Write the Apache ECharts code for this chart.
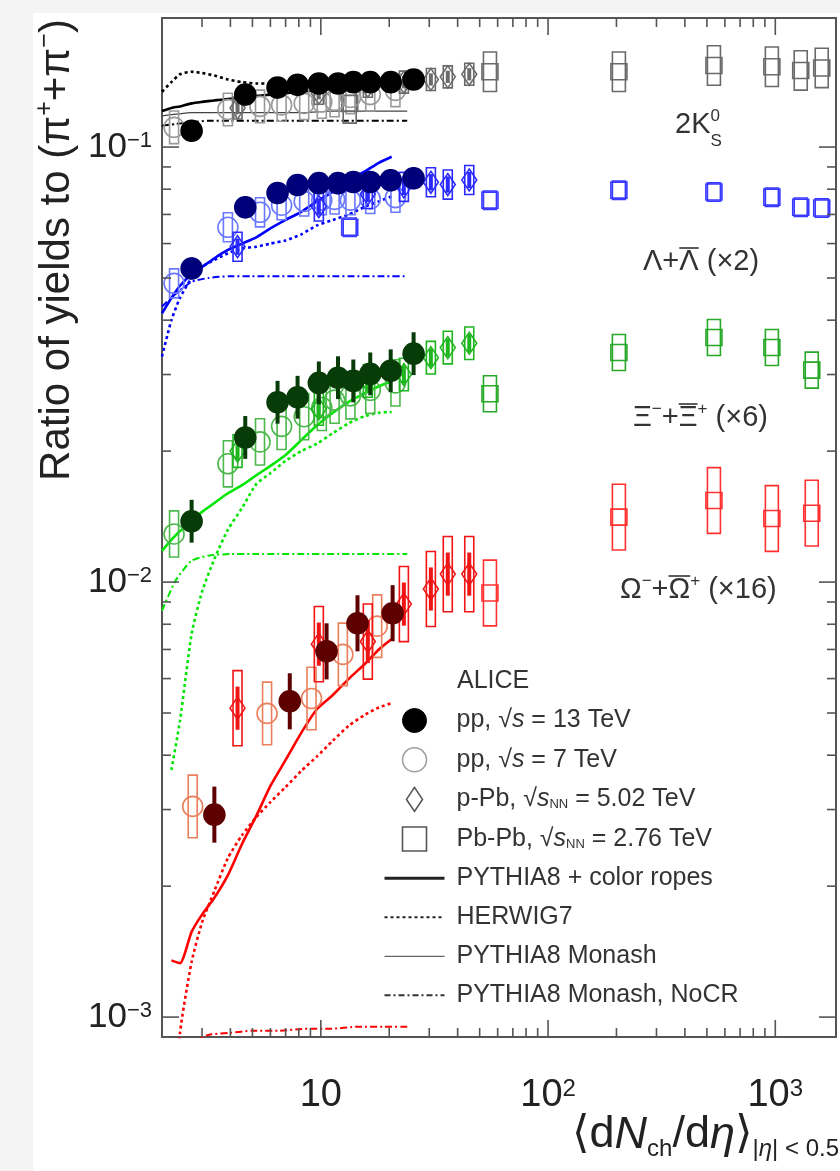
<!DOCTYPE html>
<html>
<head>
<meta charset="utf-8">
<script src="https://cdn.jsdelivr.net/npm/echarts@6/dist/echarts.min.js"></script>
<style>
html, body { margin: 0; padding: 0; background: #f4f4f4; }
#chart { width: 840px; height: 1171px; }
</style>
</head>
<body>
<div id="chart"></div>
<script>
// multiplicity classes, <dNch/deta>
const pp13X = [2.7, 4.65, 6.45, 7.9, 9.8, 11.9, 13.9, 16.5, 20.3, 25.6];
const pp7X = [2.26, 3.9, 5.4, 6.72, 8.45, 10.1, 11.5, 13.5, 16.5, 21.3];
const pPbX = [4.3, 9.8, 16.1, 23.2, 30.5, 36.2, 45];
const pbPbX = [13.4, 55.5, 205, 537, 966, 1294, 1601];
const pbPbXiX = [55.5, 205, 537, 966, 1447];
const omegaPp13X = [3.4, 7.3, 10.6, 14.5, 20.7];
const omegaPp7X = [2.73, 5.8, 9.1, 12.5, 17.7];
const modelX = [2.0, 2.2, 2.4, 2.7, 3.0, 3.4, 3.9, 4.5, 5.2, 6.0, 7.0, 8.2, 9.6, 11.3, 13.3, 15.7, 18.0, 20.5];
const tuneX = [2.0, 2.3, 2.7, 3.2, 4, 5, 6.5, 8.5, 11, 14.5, 19, 24];

// 2K0S / (pi+ + pi-)
const kPp13 = [0.109, 0.132, 0.137, 0.139, 0.140, 0.140, 0.141, 0.141, 0.141, 0.143];
const kPp7 = [0.111, 0.122, 0.124, 0.125, 0.126, 0.127, 0.128, 0.130, 0.132, 0.135];
const kPPb = [0.123, 0.133, 0.138, 0.141, 0.143, 0.145, 0.147];
const kPbPb = [0.126, 0.149, 0.149, 0.154, 0.153, 0.150, 0.152];
const kRopes = [0.121, 0.123, 0.124, 0.126, 0.127, 0.128, 0.129, 0.130, 0.131, 0.132, 0.133, 0.134, 0.135, 0.136, 0.137, 0.138, 0.139, 0.140];
const kHerwig = [0.134, 0.141, 0.147, 0.149, 0.148, 0.146, 0.143, 0.141, 0.140, 0.140, 0.140, 0.140, 0.141, 0.141, 0.141, 0.142, 0.142, 0.142];
const kMonash = [0.118, 0.119, 0.120, 0.120, 0.120, 0.120, 0.120, 0.120, 0.121, 0.121, 0.121, 0.121];
const kNoCR = [0.112, 0.113, 0.114, 0.115, 0.115, 0.115, 0.115, 0.115, 0.115, 0.115, 0.115, 0.115];

// (Lambda + anti-Lambda) x2
const lPp13 = [0.0526, 0.0727, 0.0784, 0.0818, 0.0826, 0.0826, 0.0831, 0.0831, 0.0839, 0.0848];
const lPp7 = [0.0486, 0.0654, 0.0708, 0.0735, 0.0750, 0.0755, 0.0758, 0.0755, 0.0760, 0.0765];
const lPPb = [0.059, 0.073, 0.078, 0.081, 0.083, 0.082, 0.084];
const lPbPb = [0.0654, 0.0755, 0.0796, 0.0788, 0.0767, 0.0727, 0.0724];
const lRopes = [0.0415, 0.045, 0.048, 0.051, 0.053, 0.0555, 0.058, 0.060, 0.062, 0.065, 0.068, 0.071, 0.075, 0.079, 0.084, 0.088, 0.092, 0.095];
const lHerwig = [0.033, 0.040, 0.045, 0.050, 0.053, 0.055, 0.057, 0.0585, 0.059, 0.060, 0.061, 0.063, 0.066, 0.068, 0.070, 0.073, 0.075, 0.077];
const lNoCR = [0.043, 0.046, 0.049, 0.050, 0.0505, 0.0505, 0.0505, 0.0505, 0.0505, 0.0505, 0.0505, 0.0505];

// (Xi- + anti-Xi+) x6
const xPp13 = [0.0138, 0.0215, 0.0259, 0.0266, 0.0287, 0.0295, 0.0290, 0.0301, 0.0306, 0.0335];
const xPp7 = [0.0129, 0.0187, 0.0210, 0.0228, 0.0240, 0.0252, 0.0262, 0.0268, 0.0276, 0.0287];
const xPPb = [0.020, 0.025, 0.029, 0.030, 0.0328, 0.0346, 0.0354];
const xPbPb = [0.0271, 0.0337, 0.0365, 0.0346, 0.0307];
const xRopes = [0.0118, 0.0125, 0.0131, 0.0138, 0.0145, 0.0152, 0.0160, 0.0167, 0.0176, 0.0185, 0.0196, 0.0212, 0.0229, 0.0245, 0.0260, 0.0272, 0.0282, 0.0289];
const xHerwig = [null, 0.0037, 0.0048, 0.0076, 0.0095, 0.0113, 0.0132, 0.0148, 0.0168, 0.0178, 0.0190, 0.0200, 0.0208, 0.0220, 0.0232, 0.0241, 0.0245, 0.0246];
const xNoCR = [0.0086, 0.0101, 0.0112, 0.0115, 0.0116, 0.0116, 0.0116, 0.0116, 0.0116, 0.0116, 0.0116, 0.0116];

// (Omega- + anti-Omega+) x16
const oPp13 = [0.00292, 0.00532, 0.00693, 0.00804, 0.00848];
const oPp7 = [0.00305, 0.00499, 0.00540, 0.00682, 0.00792];
const oPPb = [0.00513, 0.0072, 0.0073, 0.0089, 0.00964, 0.01043, 0.01043];
const oPbPb = [0.00944, 0.0141, 0.0154, 0.0140, 0.0144];
const oRopes = [null, 0.00135, 0.00133, 0.00157, 0.00172, 0.00188, 0.00212, 0.00250, 0.0029, 0.0034, 0.0039, 0.0045, 0.0051, 0.0055, 0.0060, 0.0065, 0.0070, 0.0074];
const oHerwig = [null, 0.0005, 0.00092, 0.00134, 0.00165, 0.00195, 0.00232, 0.00262, 0.00288, 0.00312, 0.00338, 0.00368, 0.00397, 0.00432, 0.00468, 0.00496, 0.00515, 0.00527];
const oNoCR = [null, null, 0.00088, 0.00091, 0.00092, 0.00093, 0.00093, 0.00094, 0.00094, 0.00095, 0.00095, 0.00095];

// relative uncertainties, order K0S, Lambda, Xi, Omega
const pp13Err = [0.03, 0.06, 0.12, 0.16];
const pp7Sys = [0.09, 0.08, 0.13, 0.18];
const pPbSys = [0.06, 0.08, 0.09, 0.22];
const pbPbSys = [0.11, 0.05, 0.10, 0.19];

const xMajorTicks = [10, 100, 1000];
const xMinorTicks = [3, 4, 5, 6, 7, 8, 9, 20, 30, 40, 50, 60, 70, 80, 90, 200, 300, 400, 500, 600, 700, 800, 900];
const yMajorTicks = [0.001, 0.01, 0.1];
const yMinorTicks = [0.002, 0.003, 0.004, 0.005, 0.006, 0.007, 0.008, 0.009, 0.02, 0.03, 0.04, 0.05, 0.06, 0.07, 0.08, 0.09];

const FONT = '"Liberation Sans", Arial, "DejaVu Sans", sans-serif';
const AXIS = '#555';
const X_MIN = 2, X_MAX = 1850, Y_MIN = 0.0009, Y_MAX = 0.198;

const darkColors = ['#000000', '#00007a', '#073b07', '#5e0000'];
const pp7Colors = ['#9a9a9a', '#6a78ff', '#4cb84c', '#ea7f5c'];
const pPbColors = ['#6a6a6a', '#2a2aff', '#1fb51f', '#f01414'];
const pbPbColors = ['#6a6a6a', '#3a3aff', '#27a827', '#ff3030'];
const modelColors = ['#000000', '#0000ff', '#00e600', '#ff0000'];

const N13 = 'pp13', N7 = 'pp7', NPPB = 'pPb', NPBPB = 'PbPb';
const NROPES = 'PYTHIA8 + color ropes', NHERWIG = 'HERWIG7', NMONASH = 'PYTHIA8 Monash', NNOCR = 'PYTHIA8 Monash, NoCR';
const legendText = {
  pp13: 'pp, √{i|s} = 13 TeV',
  pp7: 'pp, √{i|s} = 7 TeV',
  pPb: 'p-Pb, √{i|s}{sub|NN} = 5.02 TeV',
  PbPb: 'Pb-Pb, √{i|s}{sub|NN} = 2.76 TeV'
};

function zip(xs, ys) {
  return xs.map((x, i) => [x, ys[i]]).filter(d => d[1] != null);
}

function uncertainty(xs, ys, rel, color, kind, z) {
  return {
    type: 'custom', silent: true, z: z,
    data: zip(xs, ys),
    renderItem: function (params, api) {
      const x = api.value(0), y = api.value(1);
      const hi = api.coord([x, y * (1 + rel)]);
      const lo = api.coord([x, y / (1 + rel)]);
      if (kind === 'bar') {
        return { type: 'line', shape: { x1: hi[0], y1: hi[1], x2: lo[0], y2: lo[1] }, style: { stroke: color, lineWidth: 4 } };
      }
      const w = kind === 'wide' ? 13 : 9;
      return { type: 'rect', shape: { x: hi[0] - w / 2, y: hi[1], width: w, height: lo[1] - hi[1] }, style: { fill: 'none', stroke: color, lineWidth: 1.6 } };
    }
  };
}

function markers(name, xs, ys, symbol, size, fill, stroke, z) {
  return {
    type: 'scatter', name: name, silent: true, z: z, symbolKeepAspect: true,
    data: zip(xs, ys), symbol: symbol, symbolSize: size,
    itemStyle: { color: fill, borderColor: stroke, borderWidth: 1.6, opacity: 1 }
  };
}

function model(name, xs, ys, color, style) {
  return {
    type: 'line', name: name, silent: true, z: 2,
    data: zip(xs, ys), symbol: 'none', showSymbol: false, smooth: 0.2,
    itemStyle: { color: color },
    lineStyle: Object.assign({ color: color }, style)
  };
}

const ropesStyle = { width: 2.6, type: 'solid' };
const herwigStyle = { width: 2.6, type: [3, 3] };
const monashStyle = { width: 1.2, type: 'solid' };
const nocrStyle = { width: 2, type: [7, 3, 2, 3] };

const species = [
  { pp13x: pp13X, pp13: kPp13, pp7x: pp7X, pp7: kPp7, pPb: kPPb, pbx: pbPbX, pbPb: kPbPb, ropes: kRopes, herwig: kHerwig, nocr: kNoCR, monash: kMonash },
  { pp13x: pp13X, pp13: lPp13, pp7x: pp7X, pp7: lPp7, pPb: lPPb, pbx: pbPbX, pbPb: lPbPb, ropes: lRopes, herwig: lHerwig, nocr: lNoCR },
  { pp13x: pp13X, pp13: xPp13, pp7x: pp7X, pp7: xPp7, pPb: xPPb, pbx: pbPbXiX, pbPb: xPbPb, ropes: xRopes, herwig: xHerwig, nocr: xNoCR },
  { pp13x: omegaPp13X, pp13: oPp13, pp7x: omegaPp7X, pp7: oPp7, pPb: oPPb, pbx: pbPbXiX, pbPb: oPbPb, ropes: oRopes, herwig: oHerwig, nocr: oNoCR }
];

const series = [];
species.forEach((s, i) => {
  const mc = modelColors[i];
  series.push(model(NROPES, modelX, s.ropes, mc, ropesStyle));
  series.push(model(NHERWIG, modelX, s.herwig, mc, herwigStyle));
  series.push(model(NNOCR, tuneX, s.nocr, mc, nocrStyle));
  if (s.monash) series.push(model(NMONASH, tuneX, s.monash, '#444', monashStyle));
  series.push(uncertainty(s.pbx, s.pbPb, pbPbSys[i], pbPbColors[i], 'wide', 3));
  series.push(markers(NPBPB, s.pbx, s.pbPb, 'rect', 16, 'rgba(0,0,0,0)', pbPbColors[i], 3));
  series.push(uncertainty(s.pp7x, s.pp7, pp7Sys[i], pp7Colors[i], 'box', 3));
  series.push(markers(N7, s.pp7x, s.pp7, 'circle', 20, 'rgba(0,0,0,0)', pp7Colors[i], 3));
  series.push(uncertainty(pPbX, s.pPb, pPbSys[i], pPbColors[i], 'box', 4));
  series.push(uncertainty(pPbX, s.pPb, pPbSys[i] * 0.55, pPbColors[i], 'bar', 4));
  series.push(markers(NPPB, pPbX, s.pPb, 'diamond', [15, 22], 'rgba(0,0,0,0)', pPbColors[i], 4));
  series.push(uncertainty(s.pp13x, s.pp13, pp13Err[i], darkColors[i], 'bar', 5));
  series.push(markers(N13, s.pp13x, s.pp13, 'circle', 21, darkColors[i], darkColors[i], 5));
});

// axis ticks drawn inside the frame on all four sides
function tickSeries(values, len, isX) {
  return {
    type: 'custom', silent: true, z: 6,
    data: values.map(v => isX ? [v, len] : [len, v]),
    renderItem: function (params, api) {
      const st = { stroke: AXIS, lineWidth: 1.6 };
      if (isX) {
        const v = api.value(0);
        const b = api.coord([v, Y_MIN]), t = api.coord([v, Y_MAX]);
        return { type: 'group', children: [
          { type: 'line', shape: { x1: b[0], y1: b[1], x2: b[0], y2: b[1] - len }, style: st },
          { type: 'line', shape: { x1: t[0], y1: t[1], x2: t[0], y2: t[1] + len }, style: st }
        ] };
      }
      const v = api.value(1);
      const l = api.coord([X_MIN, v]), r = api.coord([X_MAX, v]);
      return { type: 'group', children: [
        { type: 'line', shape: { x1: l[0], y1: l[1], x2: l[0] + len, y2: l[1] }, style: st },
        { type: 'line', shape: { x1: r[0], y1: r[1], x2: r[0] - len, y2: r[1] }, style: st }
      ] };
    }
  };
}
series.push(tickSeries(xMajorTicks, 17, true), tickSeries(xMinorTicks, 9, true),
            tickSeries(yMajorTicks, 17, false), tickSeries(yMinorTicks, 9, false));

// overlines for the antiparticles
const ctx = document.createElement('canvas').getContext('2d');
function tw(str, size) { ctx.font = size + 'px ' + FONT; return ctx.measureText(str).width; }
function overline(x, y, w) {
  return { type: 'line', silent: true, shape: { x1: x, y1: y, x2: x + w, y2: y }, style: { stroke: '#333', lineWidth: 1.6 } };
}

const AN = 29, SUP = 17;
const annRich = {
  t: { fontSize: AN, fontFamily: FONT, fill: '#333', lineHeight: 34 },
  sup: { fontSize: SUP, fontFamily: FONT, fill: '#333', verticalAlign: 'top', lineHeight: 20 }
};
function annotation(x, y, text) {
  return { type: 'text', x: x, y: y, silent: true, style: { text: text, rich: annRich, fontSize: AN, fontFamily: FONT, fill: '#333', verticalAlign: 'middle' } };
}

const graphic = [
  { type: 'rect', silent: true, z: -10, shape: { x: 33, y: 13, width: 807, height: 1158 }, style: { fill: '#ffffff' } },
  // y axis title
  { type: 'text', silent: true, x: 57, y: 250, rotation: Math.PI / 2,
    style: { text: '{t|Ratio of yields to (π}{s|+}{t|+π}{s|−}{t|)}', align: 'center', verticalAlign: 'middle',
      rich: { t: { fontSize: 42, fontFamily: FONT, fill: '#222', lineHeight: 48 }, s: { fontSize: 25, fontFamily: FONT, fill: '#222', verticalAlign: 'top', lineHeight: 26 } } } },
  // x axis title
  { type: 'text', silent: true, x: 839, y: 1135,
    style: { text: '{m|⟨d}{i|N}{sub|ch}{m|/d}{i|η}{m|⟩}{sub||}{subi|η}{sub|| < 0.5}', align: 'right', verticalAlign: 'middle',
      rich: {
        m: { fontSize: 45, fontFamily: FONT, fill: '#222', lineHeight: 52 },
        i: { fontSize: 45, fontFamily: FONT, fontStyle: 'italic', fill: '#222', lineHeight: 52 },
        sub: { fontSize: 24, fontFamily: FONT, fill: '#222', verticalAlign: 'bottom', lineHeight: 25 },
        subi: { fontSize: 24, fontFamily: FONT, fontStyle: 'italic', fill: '#222', verticalAlign: 'bottom', lineHeight: 25 }
      } } },
  // species labels
  annotation(675, 125, '{t|2K}{sup|0}'),
  { type: 'text', silent: true, x: 675 + tw('2K', AN), y: 141, style: { text: 'S', fontSize: SUP, fontFamily: FONT, fill: '#333', verticalAlign: 'middle' } },
  annotation(643, 262, '{t|Λ+Λ (×2)}'),
  overline(643 + tw('Λ+', AN), 262 - 14, tw('Λ', AN)),
  annotation(633, 418, '{t|Ξ}{sup|−}{t|+Ξ}{sup|+}{t| (×6)}'),
  overline(633 + tw('Ξ', AN) + tw('−', SUP) + tw('+', AN), 418 - 14, tw('Ξ', AN)),
  annotation(620, 590, '{t|Ω}{sup|−}{t|+Ω}{sup|+}{t| (×16)}'),
  overline(620 + tw('Ω', AN) + tw('−', SUP) + tw('+', AN), 590 - 14, tw('Ω', AN)),
  // legend header
  { type: 'text', silent: true, x: 457, y: 681, style: { text: 'ALICE', fontSize: 25, fontFamily: FONT, fill: '#333', verticalAlign: 'middle' } }
];

const axisLabelRich = (size) => ({
  b: { fontSize: size, fontFamily: FONT, color: '#222' },
  s: { fontSize: Math.round(size * 0.62), fontFamily: FONT, color: '#222', verticalAlign: 'top' }
});

const hideIcon = { opacity: 0 };

const chart = echarts.init(document.getElementById('chart'));
chart.setOption({
  animation: false,
  backgroundColor: '#f4f4f4',
  grid: { left: 162, right: 4, top: 18, bottom: 134, show: true, borderColor: AXIS, borderWidth: 2, containLabel: false, outerBoundsMode: 'none' },
  xAxis: {
    type: 'log', logBase: 10, min: X_MIN, max: X_MAX,
    axisLine: { show: false }, axisTick: { show: false }, splitLine: { show: false }, minorTick: { show: false },
    axisLabel: {
      margin: 40, showMinLabel: false, showMaxLabel: false, hideOverlap: false,
      formatter: v => { const e = Math.round(Math.log10(v)); return e === 1 ? '{b|10}' : '{b|10}{s|' + e + '}'; },
      rich: axisLabelRich(38)
    }
  },
  yAxis: {
    type: 'log', logBase: 10, min: Y_MIN, max: Y_MAX,
    axisLine: { show: false }, axisTick: { show: false }, splitLine: { show: false }, minorTick: { show: false },
    axisLabel: {
      margin: 10, showMinLabel: false, showMaxLabel: false, hideOverlap: false,
      formatter: v => { const e = Math.round(Math.log10(v)); return '{b|10}{s|−' + (-e) + '}'; },
      rich: axisLabelRich(35)
    }
  },
  legend: {
    left: 383, top: 708, orient: 'vertical', padding: 0, itemWidth: 60, itemHeight: 24, itemGap: 14,
    selectedMode: false, symbolKeepAspect: true,
    formatter: n => legendText[n] || n,
    textStyle: {
      fontSize: 25, fontFamily: FONT, color: '#333', lineHeight: 24, padding: [0, 0, 0, 7],
      rich: {
        i: { fontSize: 25, fontFamily: FONT, fontStyle: 'italic', color: '#333', lineHeight: 24 },
        sub: { fontSize: 13, fontFamily: FONT, color: '#333', verticalAlign: 'bottom', lineHeight: 14 }
      }
    },
    data: [
      { name: N13, icon: 'circle', itemStyle: { color: '#000', borderColor: '#000', borderWidth: 1 } },
      { name: N7, icon: 'circle', itemStyle: { color: 'rgba(0,0,0,0)', borderColor: '#a0a0a0', borderWidth: 1.6 } },
      { name: NPPB, icon: 'path://M8,0L16,12L8,24L0,12Z', itemStyle: { color: 'rgba(0,0,0,0)', borderColor: '#555', borderWidth: 1.6 } },
      { name: NPBPB, icon: 'path://M0,0L19,0L19,19L0,19Z', itemStyle: { color: 'rgba(0,0,0,0)', borderColor: '#555', borderWidth: 1.6 } },
      { name: NROPES, itemStyle: hideIcon, lineStyle: { color: '#222', width: 3, type: 'solid' } },
      { name: NHERWIG, itemStyle: hideIcon, lineStyle: { color: '#222', width: 2, type: [3, 3] } },
      { name: NMONASH, itemStyle: hideIcon, lineStyle: { color: '#666', width: 1.2, type: 'solid' } },
      { name: NNOCR, itemStyle: hideIcon, lineStyle: { color: '#333', width: 2, type: [6, 3, 2, 3] } }
    ]
  },
  graphic: graphic,
  series: series
});
</script>
</body>
</html>
